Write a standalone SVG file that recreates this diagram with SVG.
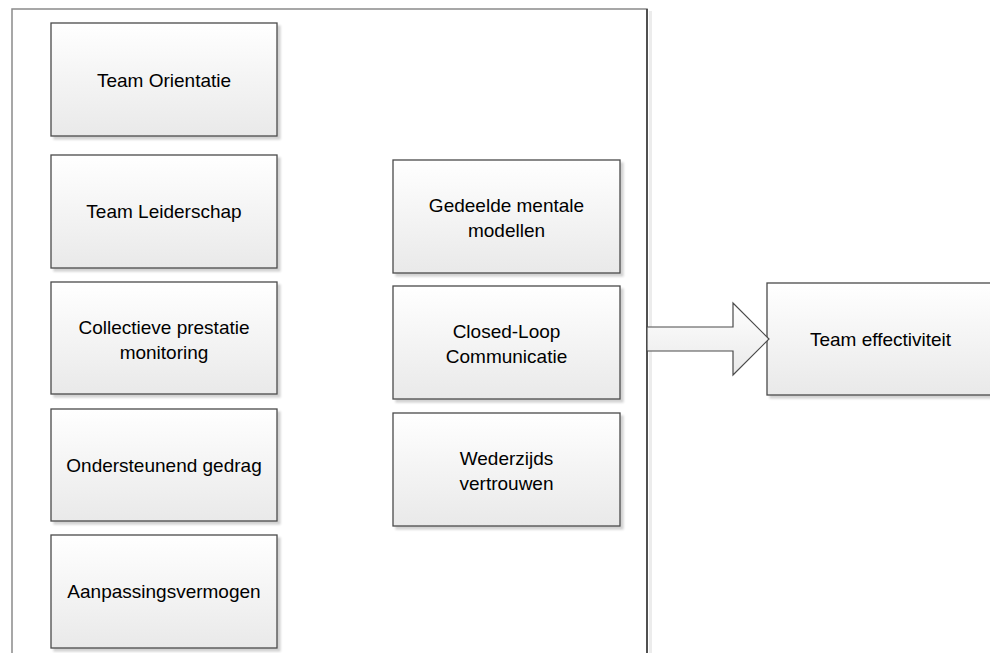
<svg xmlns="http://www.w3.org/2000/svg" width="990" height="653" viewBox="0 0 990 653">
<defs>
<linearGradient id="g" x1="0" y1="0" x2="0" y2="1">
<stop offset="0" stop-color="#ffffff"/>
<stop offset="1" stop-color="#e9e9e9"/>
</linearGradient>
<filter id="sh" x="-5%" y="-5%" width="115%" height="120%">
<feGaussianBlur in="SourceAlpha" stdDeviation="1"/>
<feOffset dx="3" dy="3" result="o"/>
<feComponentTransfer><feFuncA type="linear" slope="0.18"/></feComponentTransfer>
<feMerge><feMergeNode/><feMergeNode in="SourceGraphic"/></feMerge>
</filter>
</defs>
<style>
.box{fill:url(#g);stroke:#4a4a4a;stroke-width:1.3;filter:url(#sh)}
.t{font-family:"Liberation Sans",Arial,sans-serif;font-size:19px;fill:#000;text-anchor:middle}
</style>
<rect width="990" height="653" fill="#fff"/>
<g id="container">
<rect x="649" y="11" width="3" height="650" fill="#ececec"/>
<rect x="12" y="9" width="635" height="660" fill="#fff" stroke="#8a8a8a" stroke-width="1.5"/>
<line x1="647" y1="9" x2="647" y2="653" stroke="#333" stroke-width="1.5"/>
</g>
<g id="n1"><rect class="box" x="51" y="23" width="226" height="113"/><text class="t" x="164" y="87">Team Orientatie</text></g>
<g id="n2"><rect class="box" x="51" y="155" width="226" height="113"/><text class="t" x="164" y="218">Team Leiderschap</text></g>
<g id="n3"><rect class="box" x="51" y="282" width="226" height="112"/><text class="t" x="164" y="334">Collectieve prestatie</text><text class="t" x="164" y="359">monitoring</text></g>
<g id="n4"><rect class="box" x="51" y="409" width="226" height="112"/><text class="t" x="164" y="472">Ondersteunend gedrag</text></g>
<g id="n5"><rect class="box" x="51" y="535" width="226" height="113"/><text class="t" x="164" y="598">Aanpassingsvermogen</text></g>
<g id="m1"><rect class="box" x="393" y="160" width="227" height="113"/><text class="t" x="506.5" y="212">Gedeelde mentale</text><text class="t" x="506.5" y="237">modellen</text></g>
<g id="m2"><rect class="box" x="393" y="286" width="227" height="113"/><text class="t" x="506.5" y="338">Closed-Loop</text><text class="t" x="506.5" y="363">Communicatie</text></g>
<g id="m3"><rect class="box" x="393" y="413" width="227" height="113"/><text class="t" x="506.5" y="465">Wederzijds</text><text class="t" x="506.5" y="490">vertrouwen</text></g>
<g id="out"><rect class="box" x="767" y="283" width="228" height="112"/><text class="t" x="880.5" y="346">Team effectiviteit</text></g>
<g id="connectors">
<polygon points="647,327 733,327 733,303 769,339 733,375 733,351 647,351" fill="url(#g)" stroke="#4a4a4a" stroke-width="1.2"/>
</g>
</svg>
